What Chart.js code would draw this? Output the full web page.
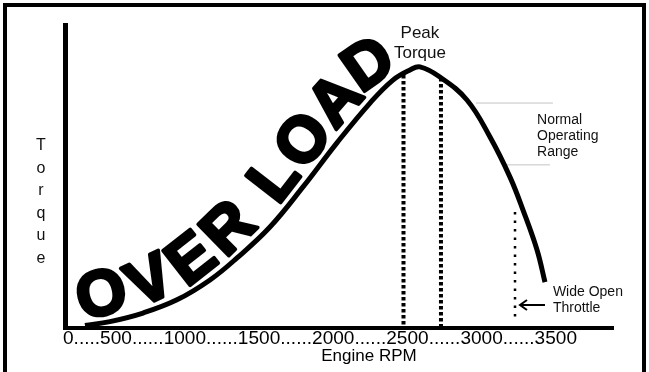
<!DOCTYPE html>
<html>
<head>
<meta charset="utf-8">
<script src="https://cdn.jsdelivr.net/npm/chart.js@4.4.1/dist/chart.umd.min.js"></script>
<style>
  html, body { margin: 0; padding: 0; background: #fff; }
  canvas { display: block; }
</style>
</head>
<body>
<canvas id="torqueChart" width="649" height="372"></canvas>
<script>
// torque curve (rpm / relative torque)
const rpm = [286, 456, 681, 912, 1137, 1321, 1545, 1770, 2001, 2226, 2382, 2498, 2566, 2702, 2886, 3043, 3179, 3267, 3363, 3417];
const torque = [0.8, 2.1, 4.9, 9.2, 15.7, 22.9, 33.0, 46.1, 60.5, 73.5, 81.0, 84.3, 85.3, 82.0, 74.5, 62.4, 49.3, 38.6, 25.5, 15.0];

// peak torque band and wide open throttle marker
const peakLow = { rpm: 2454, top: 82.7 };
const peakHigh = { rpm: 2709, top: 81.7 };
const wotLine = { rpm: 3213, top: 37.9, bottom: 2.6 };

// normal operating range limits
const rangeTop = { from: 2947, to: 3471, torque: 73.5 };
const rangeBottom = { from: 3158, to: 3451, torque: 53.3 };

const rpmTickText = '0.....500......1000......1500......2000......2500......3000......3500';
const torqueLetters = ['T', 'o', 'r', 'q', 'u', 'e'];

function seg(x1, y1, x2, y2) {
    return [{ x: x1, y: y1 }, { x: x2, y: y2 }];
}

// sample the drawn curve (bezier between the line points) and shift it sideways
function offsetCurve(chart, offset) {
    const pts = chart.getDatasetMeta(0).data;
    const samples = [];
    for (let i = 0; i < pts.length - 1; i++) {
        const p = pts[i], q = pts[i + 1];
        for (let k = 0; k < 20; k++) {
            const t = k / 20, u = 1 - t;
            samples.push({
                x: u * u * u * p.x + 3 * u * u * t * p.cp2x + 3 * u * t * t * q.cp1x + t * t * t * q.x,
                y: u * u * u * p.y + 3 * u * u * t * p.cp2y + 3 * u * t * t * q.cp1y + t * t * t * q.y
            });
        }
    }
    const last = pts[pts.length - 1];
    samples.push({ x: last.x, y: last.y });

    const path = samples.map((p, i) => {
        const a = samples[Math.max(i - 1, 0)], b = samples[Math.min(i + 1, samples.length - 1)];
        const dx = b.x - a.x, dy = b.y - a.y, len = Math.hypot(dx, dy) || 1;
        return { x: p.x + offset * dy / len, y: p.y - offset * dx / len };
    });
    let acc = 0;
    path.forEach((p, i) => {
        if (i > 0) acc += Math.hypot(p.x - path[i - 1].x, p.y - path[i - 1].y);
        p.s = acc;
    });
    return path;
}

function pointAt(path, s) {
    let i = 1;
    if (s > 0) {
        while (i < path.length - 1 && path[i].s < s) i++;
    }
    const a = path[i - 1], b = path[i];
    const t = (s - a.s) / ((b.s - a.s) || 1);
    return { x: a.x + (b.x - a.x) * t, y: a.y + (b.y - a.y) * t };
}

// letters are centred on the path, spacing measured along it
function drawTextOnCurve(ctx, path, text, start, spacing) {
    const capHalf = ctx.measureText('O').actualBoundingBoxAscent / 2;
    let s = start;
    for (const ch of text) {
        const w = ctx.measureText(ch).width;
        const mid = s + w / 2;
        const c = pointAt(path, mid);
        const a = pointAt(path, mid - 10), b = pointAt(path, mid + 40);
        ctx.save();
        ctx.translate(c.x, c.y);
        ctx.rotate(Math.atan2(b.y - a.y, b.x - a.x));
        ctx.fillText(ch, 0, capHalf);
        ctx.strokeText(ch, 0, capHalf);
        ctx.restore();
        s += w + spacing;
    }
}

const overlay = {
    id: 'overlay',
    afterDatasetsDraw(chart) {
        const ctx = chart.ctx;
        // big OVER LOAD riding on the rising side of the curve
        const path = offsetCurve(chart, 31);
        ctx.save();
        ctx.font = 'bold 64px "Liberation Sans", Arial, sans-serif';
        ctx.textAlign = 'center';
        ctx.textBaseline = 'alphabetic';
        ctx.fillStyle = '#000';
        ctx.strokeStyle = '#000';
        ctx.lineWidth = 3.5;
        ctx.lineJoin = 'round';
        drawTextOnCurve(ctx, path, 'OVER LOAD', -4, 3.5);
        ctx.restore();
    },
    afterDraw(chart) {
        const ctx = chart.ctx;
        const x = chart.scales.x, y = chart.scales.y;
        const area = chart.chartArea;
        ctx.save();

        // frame
        ctx.strokeStyle = '#000';
        ctx.lineWidth = 4;
        ctx.strokeRect(5, 5, 639, 380);

        ctx.fillStyle = '#111';
        ctx.textBaseline = 'middle';

        ctx.font = '17px "Liberation Sans", Arial, sans-serif';
        ctx.textAlign = 'center';
        ctx.fillText('Peak', x.getPixelForValue(2566), y.getPixelForValue(96.4));
        ctx.fillText('Torque', x.getPixelForValue(2566), y.getPixelForValue(89.9));

        ctx.font = '14px "Liberation Sans", Arial, sans-serif';
        ctx.textAlign = 'left';
        ['Normal', 'Operating', 'Range'].forEach((t, i) => {
            ctx.fillText(t, x.getPixelForValue(3363), y.getPixelForValue(68) + i * 16);
        });
        ctx.fillText('Wide Open', x.getPixelForValue(3471), y.getPixelForValue(11.8));
        ctx.fillText('Throttle', x.getPixelForValue(3471), y.getPixelForValue(6.5));

        // arrow pointing at the throttle line
        const ay = y.getPixelForValue(7.5);
        const ax1 = x.getPixelForValue(3417), ax2 = x.getPixelForValue(3247);
        ctx.strokeStyle = '#000';
        ctx.lineWidth = 2;
        ctx.beginPath();
        ctx.moveTo(ax1, ay);
        ctx.lineTo(ax2, ay);
        ctx.moveTo(ax2 + 7, ay - 5);
        ctx.lineTo(ax2, ay);
        ctx.lineTo(ax2 + 7, ay + 5);
        ctx.stroke();

        // vertical axis name, one letter per row
        ctx.font = '16px "Liberation Sans", Arial, sans-serif';
        ctx.textAlign = 'center';
        torqueLetters.forEach((c, i) => {
            ctx.fillText(c, 41, 146 + i * 22.5);
        });

        // rpm labels written as one dotted line under the axis
        ctx.font = '18px "Liberation Sans", Arial, sans-serif';
        ctx.textAlign = 'left';
        ctx.fillStyle = '#000';
        const w = ctx.measureText(rpmTickText).width;
        ctx.save();
        ctx.translate(area.left - 2, area.bottom + 11);
        ctx.scale(514 / w, 1);
        ctx.fillText(rpmTickText, 0, 0);
        ctx.restore();

        ctx.font = '17px "Liberation Sans", Arial, sans-serif';
        ctx.textAlign = 'center';
        ctx.fillText('Engine RPM', 369, area.bottom + 28);

        ctx.restore();
    }
};

const ctx = document.getElementById('torqueChart').getContext('2d');
new Chart(ctx, {
    type: 'line',
    data: {
        datasets: [
            {
                data: rpm.map((r, i) => ({ x: r, y: torque[i] })),
                borderColor: '#000',
                borderWidth: 5,
                tension: 0.4,
                pointRadius: 0
            },
            {
                data: seg(peakLow.rpm, peakLow.top, peakLow.rpm, 0.5),
                borderColor: '#000',
                borderWidth: 4,
                borderDash: [3.5, 2.5],
                pointRadius: 0
            },
            {
                data: seg(peakHigh.rpm, peakHigh.top, peakHigh.rpm, 0.5),
                borderColor: '#000',
                borderWidth: 4,
                borderDash: [3.5, 2.5],
                pointRadius: 0
            },
            {
                data: seg(wotLine.rpm, wotLine.top, wotLine.rpm, wotLine.bottom),
                borderColor: '#000',
                borderWidth: 2.5,
                borderDash: [2.5, 6],
                pointRadius: 0
            },
            {
                data: seg(rangeTop.from, rangeTop.torque, rangeTop.to, rangeTop.torque),
                borderColor: '#c4c4c4',
                borderWidth: 1,
                pointRadius: 0
            },
            {
                data: seg(rangeBottom.from, rangeBottom.torque, rangeBottom.to, rangeBottom.torque),
                borderColor: '#c4c4c4',
                borderWidth: 1,
                pointRadius: 0
            }
        ]
    },
    options: {
        responsive: false,
        animation: false,
        devicePixelRatio: 1,
        layout: {
            padding: { left: 65, right: 36, top: 25, bottom: 44 }
        },
        plugins: {
            legend: { display: false },
            tooltip: { enabled: false }
        },
        scales: {
            x: {
                type: 'linear',
                min: 150,
                max: 3880,
                grid: { display: false, drawTicks: false },
                ticks: { display: false },
                border: { display: true, color: '#000', width: 4 }
            },
            y: {
                min: 0,
                max: 99,
                grid: { display: false, drawTicks: false },
                ticks: { display: false },
                border: { display: true, color: '#000', width: 5 }
            }
        }
    },
    plugins: [overlay]
});
</script>
</body>
</html>
